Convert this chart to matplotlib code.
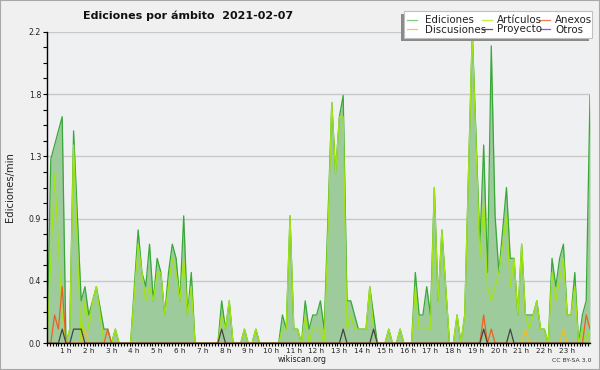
import numpy as np
import matplotlib
matplotlib.use("Agg")
import matplotlib.pyplot as plt
from matplotlib.patches import Rectangle
from matplotlib.lines import Line2D
from matplotlib.ticker import MultipleLocator, FixedLocator
import matplotlib.transforms as mtransforms

# ---- data: edits per minute, 10-minute bins (6 per hour) ----
ediciones = [
    0, 1.3, 1.4, 1.5, 1.6, 0,        # 0 h
    0.1, 1.5, 0.9, 0.3, 0.4, 0.2,    # 1 h
    0.3, 0.4, 0.25, 0.1, 0.1, 0,     # 2 h
    0.1, 0, 0, 0, 0, 0.4,            # 3 h
    0.8, 0.5, 0.4, 0.7, 0.3, 0.6,    # 4 h
    0.5, 0.2, 0.5, 0.7, 0.6, 0.3,    # 5 h
    0.9, 0.2, 0.5, 0, 0, 0,          # 6 h
    0, 0, 0, 0, 0.3, 0.1,            # 7 h
    0.3, 0, 0, 0, 0.1, 0,            # 8 h
    0, 0.1, 0, 0, 0, 0,              # 9 h
    0, 0, 0.2, 0.1, 0.9, 0.1,        # 10 h
    0.1, 0, 0.3, 0.1, 0.2, 0.2,      # 11 h
    0.3, 0.1, 0.9, 1.7, 1.2, 1.6,    # 12 h
    1.75, 0.3, 0.3, 0.2, 0.1, 0.1,   # 13 h
    0.1, 0.4, 0.2, 0, 0, 0,          # 14 h
    0.1, 0, 0, 0.1, 0, 0,            # 15 h
    0, 0.5, 0.2, 0.2, 0.4, 0.2,      # 16 h
    1.1, 0.3, 0.8, 0.4, 0, 0,        # 17 h
    0.2, 0, 0.2, 1.2, 2.2, 1.45,     # 18 h
    0.7, 1.4, 0.5, 2.1, 0.9, 0.5,    # 19 h
    0.8, 1.1, 0.6, 0.6, 0.2, 0.7,    # 20 h
    0.2, 0.2, 0.2, 0.3, 0.1, 0.1,    # 21 h
    0, 0.6, 0.4, 0.6, 0.7, 0.2,      # 22 h
    0.2, 0.5, 0, 0.2, 0.3, 1.75,     # 23 h
]
articulos = [
    0, 0.6, 1.2, 0.7, 0.2, 0,
    0.1, 1.4, 0.7, 0, 0.3, 0.1,
    0.3, 0.4, 0.2, 0, 0, 0,
    0.1, 0, 0, 0, 0, 0.35,
    0.7, 0.5, 0.3, 0.4, 0.3, 0.5,
    0.5, 0.2, 0.4, 0.6, 0.5, 0.3,
    0.6, 0.2, 0.4, 0, 0, 0,
    0, 0, 0, 0, 0.2, 0.1,
    0.3, 0, 0, 0, 0.1, 0,
    0, 0.1, 0, 0, 0, 0,
    0, 0, 0.1, 0.1, 0.9, 0.1,
    0.1, 0, 0.2, 0, 0.1, 0.1,
    0.1, 0, 0.8, 1.7, 1.2, 1.6,
    1.6, 0.1, 0.2, 0.1, 0.1, 0.1,
    0.1, 0.4, 0.1, 0, 0, 0,
    0.1, 0, 0, 0.1, 0, 0,
    0, 0.4, 0.1, 0.1, 0.1, 0.1,
    1.1, 0.3, 0.8, 0.4, 0, 0,
    0.2, 0, 0.2, 1.2, 2.2, 1.4,
    0.6, 1.0, 0.4, 0.3, 0.4, 0.5,
    0.7, 0.9, 0.4, 0.6, 0.2, 0.7,
    0.2, 0.1, 0.2, 0.3, 0.1, 0.1,
    0, 0.5, 0.3, 0.45, 0.6, 0.2,
    0.2, 0.4, 0, 0.1, 0.0, 0.1,
]
# sparse series: {bin index: value}
anexos_pts = {2: 0.2, 3: 0.1, 4: 0.4, 16: 0.1, 115: 0.2, 117: 0.1, 142: 0.2, 143: 0.1}
discusiones_pts = {10: 0.1, 126: 0.1, 136: 0.1}
proyecto_pts = {4: 0.1, 7: 0.1, 8: 0.1, 9: 0.1, 46: 0.1, 78: 0.1, 86: 0.1, 115: 0.1, 122: 0.1}
otros_pts = {}

n_bins = len(ediciones)
def dense(pts):
    arr = np.zeros(n_bins)
    for k, v in pts.items():
        arr[k] = v
    return arr

anexos = dense(anexos_pts)
discusiones = dense(discusiones_pts)
proyecto = dense(proyecto_pts)
otros = dense(otros_pts)

hours = np.arange(n_bins) / 6.0
hour_ticks = list(range(1, 24))
hour_labels = [f"{h} h" for h in hour_ticks]
y_ticks = [0, 0.44, 0.88, 1.32, 1.76, 2.2]
y_labels = ["0.0", "0.4", "0.9", "1.3", "1.8", "2.2"]

series_names = ["Ediciones", "Artículos", "Anexos", "Discusiones", "Proyecto", "Otros"]
colors = {"Ediciones": "#38a838", "Artículos": "#a2e414", "Anexos": "#ee6022",
          "Discusiones": "#f0bf20", "Proyecto": "#444444", "Otros": "#9040ee"}
legend_colors = {"Ediciones": "#80cc80", "Artículos": "#c4ee50", "Anexos": "#ee7c50",
                 "Discusiones": "#f5cc44", "Proyecto": "#555555", "Otros": "#9050ee"}

W, H = 600, 370
fig = plt.figure(figsize=(W / 100, H / 100), dpi=100, facecolor="#f0f0f0")
ax = fig.add_axes([47 / W, 26.7 / H, 543 / W, 311.6 / H])
ax.set_facecolor("#eff0f2")

def fx(x):
    return x / W
def fy(y):
    return 1 - y / H

# grid
for yv in y_ticks[1:]:
    ax.axhline(yv, color="#c8c8c8", lw=1.0, zorder=0.5)

ax.fill_between(hours, 0, ediciones, color="#9dcb9b", lw=0, zorder=1)
ax.plot(hours, ediciones, color=colors["Ediciones"], lw=0.9, zorder=2)
ax.plot(hours, articulos, color=colors["Artículos"], lw=0.9, zorder=2.1)
ax.plot(hours, otros, color=colors["Otros"], lw=0.9, zorder=2.2)
ax.plot(hours, discusiones, color=colors["Discusiones"], lw=0.9, zorder=2.2)
ax.plot(hours, anexos, color=colors["Anexos"], lw=0.9, zorder=2.3)
ax.plot(hours, proyecto, color=colors["Proyecto"], lw=0.9, zorder=2.4)

ax.set_xlim(0, (n_bins - 1) / 6.0)
ax.set_ylim(0, 2.2)

for s in ["top", "right"]:
    ax.spines[s].set_visible(False)
for s in ["left", "bottom"]:
    ax.spines[s].set_color("black")
    ax.spines[s].set_linewidth(1.0)
    ax.spines[s].set_zorder(5)

ax.xaxis.set_major_locator(FixedLocator(hour_ticks))
ax.set_xticklabels(hour_labels)
ax.xaxis.set_minor_locator(MultipleLocator(1 / 8))
ax.yaxis.set_major_locator(FixedLocator(y_ticks))
ax.set_yticklabels(y_labels)
ax.yaxis.set_minor_locator(MultipleLocator(0.11))

ax.tick_params(axis="x", which="both", direction="out", length=2.4, width=0.8,
               color="black", labelsize=5.2, pad=1.2, labelcolor="#222222")
ax.tick_params(axis="y", which="both", direction="out", length=2.8, width=0.8,
               color="black", labelsize=5.6, pad=1.5, labelcolor="#222222")

offset = mtransforms.ScaledTranslation(-4 / 100, 0, fig.dpi_scale_trans)
for lab in ax.get_xticklabels():
    lab.set_transform(lab.get_transform() + offset)

# title & labels
fig.text(fx(188), fy(16), "Ediciones por ámbito  2021-02-07", ha="center", va="center",
         fontsize=8.0, fontweight="bold", color="#111111")
fig.text(fx(10), fy(187), "Ediciones/min", rotation=90, ha="center", va="center",
         fontsize=7.2, color="#222222")
fig.text(fx(302), fy(360), "wikiscan.org", ha="center", va="center", fontsize=5.6,
         color="#222222")
fig.text(fx(572), fy(361), "CC BY-SA 3.0", ha="center", va="center", fontsize=4.4,
         color="#333333")

# legend (manual)
fig.patches.append(Rectangle((fx(401), fy(41)), (592 - 404) / W, (38 - 11) / H,
                             transform=fig.transFigure, facecolor="#8a8a8a",
                             edgecolor="none", zorder=10))
fig.patches.append(Rectangle((fx(404), fy(38)), (592 - 404) / W, (38 - 11) / H,
                             transform=fig.transFigure, facecolor="white",
                             edgecolor="#c0c0c0", lw=0.8, zorder=11))
leg_layout = [
    ("Ediciones", 407, 425, 19.5, 23.0),
    ("Artículos", 482, 497, 19.5, 22.6),
    ("Anexos", 540, 555, 19.5, 23.0),
    ("Discusiones", 407, 425, 29.0, 32.8),
    ("Proyecto", 482, 497, 28.5, 31.8),
    ("Otros", 540, 555, 29.0, 32.8),
]
for name, lx, tx, ly, ty in leg_layout:
    fig.lines.append(Line2D([fx(lx), fx(lx + 10)], [fy(ly), fy(ly)], transform=fig.transFigure,
                            color=legend_colors[name], lw=0.9, zorder=12))
    fig.text(fx(tx), fy(ty), name, ha="left", va="baseline", fontsize=7.4,
             color="#222222", zorder=13)

# outer border
fig.patches.append(Rectangle((0, 0), 1, 1, transform=fig.transFigure, fill=False,
                             edgecolor="#a8a8a8", lw=1.5, zorder=20))

fig.savefig("out.png", dpi=100, facecolor=fig.get_facecolor())
